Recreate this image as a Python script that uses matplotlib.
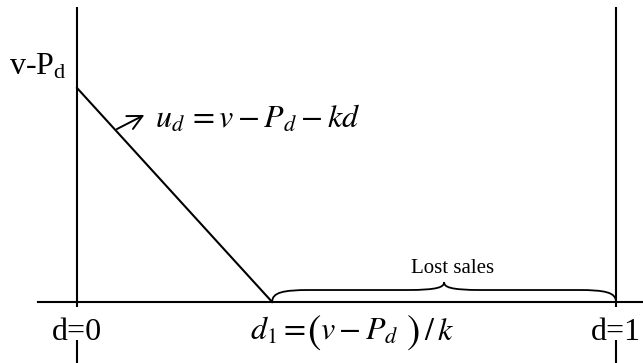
import numpy as np
import matplotlib.pyplot as plt
from matplotlib.path import Path
from matplotlib.patches import PathPatch

plt.rcParams['mathtext.fontset'] = 'stix'
plt.rcParams['font.family'] = ['Liberation Serif', 'DejaVu Serif']

# utility line u_d = v - P_d - k d, normalised so v - P_d = 1, d in [0, 1]
d_line = [0.0, 0.362]
u_line = [1.0, 0.0]
d1 = 0.362
d_max = 1.0
u_top = 1.378
gap = (-0.023, -0.178)

fig = plt.figure(figsize=(6.43, 3.63), dpi=100)
ax = fig.add_axes([0, 0, 1, 1])
ax.set_xlim(-0.1429, 1.050)
ax.set_ylim(-0.285, 1.411)
ax.axis('off')

lw = 1.5
# vertical lines at d=0 and d=1 (broken where the labels sit)
for x in [0.0, d_max]:
    ax.plot([x, x], [gap[0], u_top], color='black', lw=lw, solid_capstyle='butt')
    ax.plot([x, x], [-0.285, gap[1]], color='black', lw=lw, solid_capstyle='butt')

# horizontal axis
ax.plot([-0.072, 1.06], [0, 0], color='black', lw=lw)

# utility line
ax.plot(d_line, u_line, color='black', lw=lw)

# arrow pointing to the equation
ax.annotate('', xy=(0.125, 0.874), xytext=(0.074, 0.808),
            arrowprops=dict(arrowstyle='->', color='black', lw=1.4,
                            mutation_scale=26, shrinkA=0, shrinkB=0))

# brace for lost sales
mid = (d1 + d_max) / 2
h1, h2 = 0.056, 0.093
verts = [
    (d1, 0), (d1, 0.045), (d1 + 0.02, h1), (d1 + 0.07, h1),
    (mid - 0.07, h1), (mid - 0.01, h1), (mid, 0.07), (mid, h2),
    (mid, 0.07), (mid + 0.01, h1), (mid + 0.07, h1),
    (d_max - 0.07, h1), (d_max - 0.02, h1), (d_max, 0.045), (d_max, 0),
]
codes = [Path.MOVETO, Path.CURVE4, Path.CURVE4, Path.CURVE4,
         Path.LINETO, Path.CURVE4, Path.CURVE4, Path.CURVE4,
         Path.CURVE4, Path.CURVE4, Path.CURVE4,
         Path.LINETO, Path.CURVE4, Path.CURVE4, Path.CURVE4]
ax.add_patch(PathPatch(Path(verts, codes), facecolor='none', edgecolor='black', lw=1.3))

# labels
ax.text(-0.019, 1.06, r'v-P$_\mathregular{d}$', fontsize=23, ha='right', va='baseline')
ax.text(0.145, 0.813, r'$u_d\,=v-P_d-kd$', fontsize=23, ha='left', va='baseline')
ax.text(mid + 0.015, 0.136, 'Lost sales', fontsize=15, ha='center', va='baseline')
ax.text(0.0, -0.178, 'd=0', fontsize=23, ha='center', va='baseline')
ax.text(d_max, -0.178, 'd=1', fontsize=23, ha='center', va='baseline')

# d1 = (v - P_d)/k with tall parentheses
base = -0.178
ax.text(0.321, base, r'$d_1=$', fontsize=23, ha='left', va='baseline')
ax.text(0.4265, base - 0.012, r'$($', fontsize=29, ha='left', va='baseline')
ax.text(0.4505, base, r'$v-P_d$', fontsize=23, ha='left', va='baseline')
ax.text(0.6095, base - 0.012, r'$)$', fontsize=29, ha='left', va='baseline')
ax.text(0.6440, base, r'$/\,k$', fontsize=23, ha='left', va='baseline')

fig.savefig('out.png', dpi=100)
